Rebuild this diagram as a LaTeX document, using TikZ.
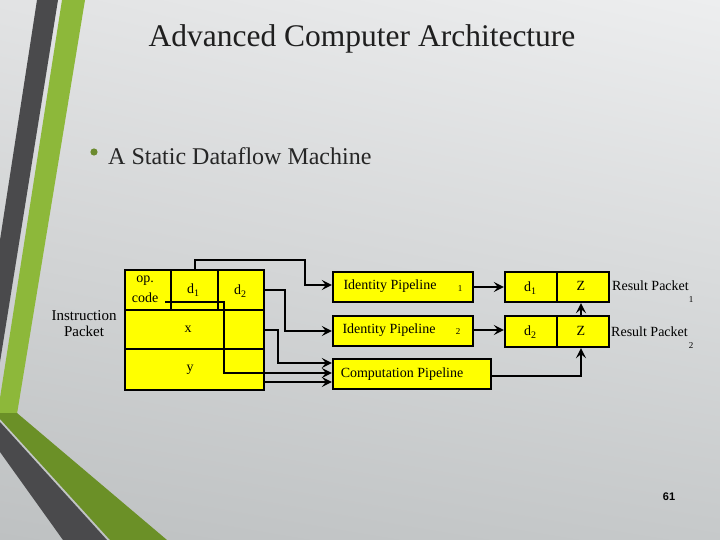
\documentclass[tikz,border=0pt]{standalone}
\usepackage{fontspec}
\setmainfont{Liberation Serif}
\newfontfamily\numfont{Liberation Sans}
\usetikzlibrary{arrows.meta,shadings}
\definecolor{bgUR}{HTML}{EDEEEF}
\definecolor{bgUL}{HTML}{E2E3E4}
\definecolor{bgLL}{HTML}{BEC1C2}
\definecolor{bgLR}{HTML}{C6C9CA}
\definecolor{stripedark}{HTML}{4A4A4C}
\definecolor{stripegreen}{HTML}{8DB83A}
\definecolor{bandgreen}{HTML}{6B9027}
\definecolor{bulletgreen}{HTML}{6B8A2E}
\definecolor{cellyellow}{HTML}{FFFF00}
\tikzset{
  cell/.style={draw=black, fill=cellyellow, line width=2.4pt, inner sep=0pt, rectangle},
  lbl/.style={inner sep=0pt, font=\fontsize{14}{16}\selectfont},
  sublbl/.style={inner sep=0pt, font=\fontsize{9}{10}\selectfont},
  wire/.style={line width=2.1pt, line join=miter},
  arr/.style={wire, -{Stealth[length=10pt, width=10pt, inset=4pt]}}
}
\newcommand{\dsub}[1]{d{\raisebox{-3pt}{\fontsize{10}{10}\selectfont #1}}}
\begin{document}
\begin{tikzpicture}[x=1pt, y=-1pt]
\useasboundingbox (0,0) rectangle (720,540);
% background
\shade[upper left=bgUL, upper right=bgUR, lower left=bgLL, lower right=bgLR] (0,0) rectangle (720,540);
% decorative stripes
\fill[stripedark] (37,0) -- (58,0) -- (0,362) -- (0,240) -- cycle;
\fill[stripegreen] (62,0) -- (85,0) -- (17,414) -- (0,414) -- (0,398) -- cycle;
\fill[bandgreen] (0,413) -- (17,413) -- (167,540) -- (110,540) -- (0,419) -- cycle;
\fill[stripedark] (0,422) -- (107,540) -- (63,540) -- (0,452) -- cycle;
% title
\node[inner sep=0pt, text=black!88, font=\fontsize{31.5}{36}\selectfont] (title) at (362,39) {Advanced Computer Architecture};
\fill[bulletgreen] (94,152) circle (3.6pt);
\node[anchor=west, inner sep=0pt, text=black!85, font=\fontsize{24}{28}\selectfont] (sub) at (108,156) {A Static Dataflow Machine};
% instruction packet
\node[cell, minimum width=46pt, minimum height=40pt] (opc) at (148,290) {};
\node[cell, minimum width=47pt, minimum height=40pt] (d1c) at (194.5,290) {};
\node[cell, minimum width=46pt, minimum height=40pt] (d2c) at (241,290) {};
\node[cell, minimum width=139pt, minimum height=39pt] (xc) at (194.5,329.5) {};
\node[cell, minimum width=139pt, minimum height=41pt] (yc) at (194.5,369.5) {};
\node[lbl] (opt) at (145,281) {op.};
\node[lbl] (codet) at (145,298) {code};
\node[lbl] (d1t) at (193,290) {\dsub{1}};
\node[lbl] (d2t) at (240,291) {\dsub{2}};
\node[lbl] (xt) at (188,329) {x};
\node[lbl] (yt) at (190,370) {y};
\node[inner sep=0pt, align=center, font=\fontsize{15}{16}\selectfont] (ip) at (84,324) {Instruction\\Packet};
% pipelines
\node[cell, minimum width=140pt, minimum height=30pt] (id1) at (403,287) {};
\node[cell, minimum width=140pt, minimum height=30pt] (id2) at (403,331) {};
\node[cell, minimum width=158pt, minimum height=30pt] (comp) at (412,374) {};
\node[lbl] (id1t) at (390,286) {Identity Pipeline};
\node[lbl] (id2t) at (389,330) {Identity Pipeline};
\node[lbl] (compt) at (402,374) {Computation Pipeline};
\node[sublbl] (id1s) at (460,289) {1};
\node[sublbl] (id2s) at (458,332) {2};
% result packets
\node[cell, minimum width=52pt, minimum height=30pt] (r1d) at (531,287) {};
\node[cell, minimum width=52pt, minimum height=30pt] (r1z) at (583,287) {};
\node[cell, minimum width=52pt, minimum height=31pt] (r2d) at (531,331.5) {};
\node[cell, minimum width=52pt, minimum height=31pt] (r2z) at (583,331.5) {};
\node[lbl] (r1dt) at (530,288) {\dsub{1}};
\node[lbl] (r1zt) at (581,286) {Z};
\node[lbl] (r2dt) at (530,332) {\dsub{2}};
\node[lbl] (r2zt) at (581,331) {Z};
\node[lbl, anchor=west] (rp1) at (612,286) {Result Packet};
\node[sublbl] (rp1s) at (691,300) {1};
\node[lbl, anchor=west] (rp2) at (611,332) {Result Packet};
\node[sublbl] (rp2s) at (691,346) {2};
% page number
\node[inner sep=0pt, font=\numfont\bfseries\fontsize{11}{12}\selectfont] (pg) at (669,497) {61};
% connectors
\coordinate (codeend) at (165,302);
\draw[arr] (d1c.north -| 195,0) -- (195,260) -- (305,260) -- (305,285) -- (id1.west |- 0,285);
\draw[arr] (d2c.east) -- (285,290) -- (285,331) -- (id2.west);
\draw[arr] (xc.east |- 0,330) -- (278,330) -- (278,363) -- (comp.west |- 0,363);
\draw[arr] (codeend) -- (224,302) -- (224,373) -- (comp.west |- 0,373);
\draw[arr] (yc.east |- 0,382) -- (comp.west |- 0,382);
\draw[arr] (id1.east) -- (r1d.west);
\draw[arr] (id2.east |- 0,330) -- (r2d.west |- 0,330);
\draw[arr] (r2z.north -| 581,0) -- (r1z.south -| 581,0);
\draw[arr] (comp.east |- 0,376) -- (581,376) -- (r2z.south -| 581,0);
\end{tikzpicture}
\end{document}
